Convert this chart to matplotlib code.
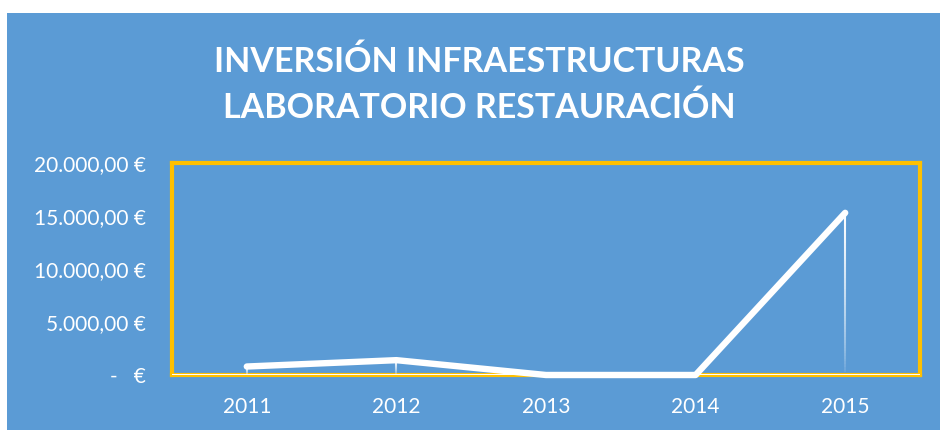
import matplotlib
matplotlib.use("Agg")
import matplotlib.pyplot as plt
from matplotlib.collections import LineCollection
from matplotlib.patches import Rectangle
import numpy as np

years = ["2011", "2012", "2013", "2014", "2015"]
values = [800, 1400, 0, 0, 15300]
yticks = [0, 5000, 10000, 15000, 20000]
ytick_labels = ["-   €", "5.000,00 €", "10.000,00 €", "15.000,00 €", "20.000,00 €"]
title = "INVERSIÓN INFRAESTRUCTURAS\nLABORATORIO RESTAURACIÓN"

BLUE = "#5B9BD5"
GOLD = "#FFC000"
W, H = 940, 430

plt.rcParams['font.family'] = ['Lato', 'DejaVu Sans']

fig = plt.figure(figsize=(W / 100, H / 100), dpi=100, facecolor="white")
fig.patches.append(Rectangle((7 / W, 0), 1 - 7 / W, 1 - 13 / H, transform=fig.transFigure,
                             facecolor=BLUE, edgecolor="none", zorder=-10))

ax = fig.add_axes([172 / W, 1 - 375 / H, (920 - 172) / W, (375 - 163) / H])
ax.set_facecolor(BLUE)
x = np.arange(len(years))
ax.set_xlim(-0.5, len(years) - 0.5)
ax.set_ylim(0, 20000)

# drop lines with fading gradient
for xi, v in zip(x, values):
    if v <= 0:
        continue
    n = 60
    ys = np.linspace(v, 0, n + 1)
    segs = [[(xi, ys[i]), (xi, ys[i + 1])] for i in range(n)]
    alphas = np.linspace(1.0, 0.0, n) ** 0.6
    cols = [(1, 1, 1, a) for a in alphas]
    ax.add_collection(LineCollection(segs, colors=cols, linewidths=1.5, zorder=2))

ax.axhline(0, color="white", lw=2.2, zorder=3)
ax.plot(x, values, color="white", lw=4.6, solid_capstyle="round",
        solid_joinstyle="round", zorder=4, clip_on=False)

for s in ax.spines.values():
    s.set_color(GOLD)
    s.set_linewidth(3)
ax.spines["bottom"].set_zorder(1)

ax.set_xticks(x)
ax.set_xticklabels(years)
ax.set_yticks(yticks)
ax.set_yticklabels(ytick_labels)
ax.tick_params(axis="both", length=0, colors="white", labelsize=15)
ax.tick_params(axis="y", pad=19)
ax.tick_params(axis="x", pad=16)

fig.text(479 / W, 1 - 85 / H, title, ha="center", va="center", color="white",
         fontsize=24.5, fontweight="bold", linespacing=1.5)

fig.savefig("out.png", dpi=100, facecolor="white")
